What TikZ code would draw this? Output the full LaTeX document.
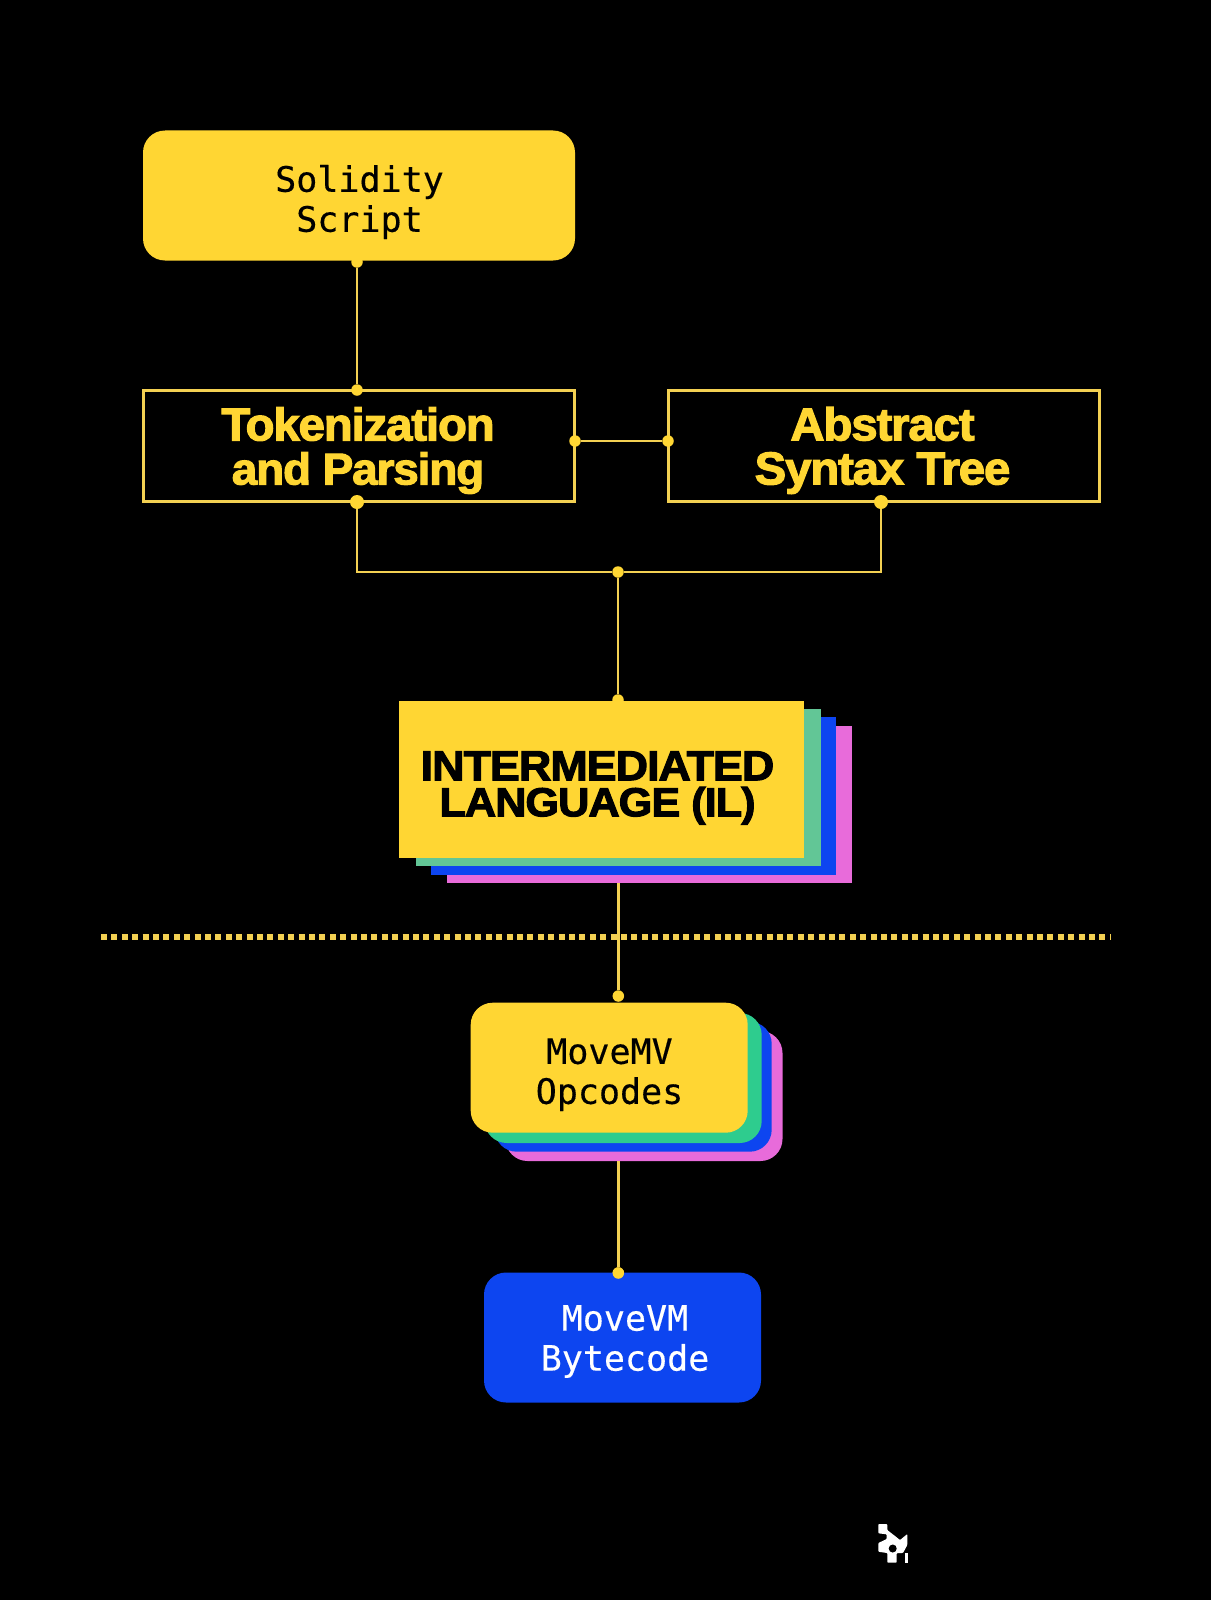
\documentclass[tikz,border=0pt]{standalone}
\usepackage{fontspec}
\setmainfont{Liberation Sans}
\newfontfamily\monofont[FakeBold=0.35]{DejaVu Sans Mono}
\newfontfamily\heavyfont[LetterSpace=-2.5,FakeBold=2.5,FakeStretch=1.03]{Liberation Sans Bold}
\newfontfamily\ilfont[LetterSpace=-2.5,FakeBold=2.5,FakeStretch=1.07]{Liberation Sans Bold}
\begin{document}
\begin{tikzpicture}[x=1pt,y=-1pt]
    \definecolor{move_bg}{RGB}{0,0,0}
    \definecolor{move_yellow}{RGB}{255,214,51}
    \definecolor{move_line}{RGB}{243,208,82}
    \definecolor{move_greenA}{RGB}{98,198,150}
    \definecolor{move_greenB}{RGB}{46,204,142}
    \definecolor{move_blue}{RGB}{13,69,240}
    \definecolor{move_pink}{RGB}{232,107,218}
    \tikzset{
        solidbox/.style={shape=rectangle,rounded corners=22pt,fill=move_yellow,inner sep=0pt,outer sep=0pt,minimum width=432pt,minimum height=130pt},
        framebox/.style={shape=rectangle,draw=move_line,line width=2.8pt,inner sep=0pt,outer sep=0pt,minimum width=431pt,minimum height=111pt},
        ilcard/.style={shape=rectangle,inner sep=0pt,outer sep=0pt,minimum width=405pt,minimum height=157.5pt},
        mvcard/.style={shape=rectangle,rounded corners=22pt,inner sep=0pt,outer sep=0pt,minimum width=277pt,minimum height=130pt},
        monotext/.style={align=center,inner sep=0pt,font=\monofont\fontsize{35}{40}\selectfont},
        headtext/.style={align=center,inner sep=0pt,text=move_yellow,font=\heavyfont\fontsize{46}{44}\selectfont},
        dotsmall/.style={shape=circle,fill=move_yellow,inner sep=0pt,minimum size=11.5pt},
        dotbig/.style={shape=circle,fill=move_yellow,inner sep=0pt,minimum size=14pt},
        wire/.style={draw=move_line,line width=2.7pt}
    }
    \fill[move_bg] (0,0) rectangle (1211,1600);
    \useasboundingbox (0,0) rectangle (1211,1600);

    % top row
    \node[solidbox] (solidity) at (359,195.5) {};
    \node[monotext] (soliditytext) at (359.5,202) {Solidity\\Script};
    \node[framebox] (tokens) at (359,446) {};
    \node[headtext] (tokenstext) at (358,450.5) {Tokenization\\\fontsize{44.5}{44}\selectfont and Parsing};
    \node[framebox] (ast) at (884,446) {};
    \node[headtext] (asttext) at (882.5,450.5) {Abstract\\Syntax Tree};

    % dots of the upper connectors
    \node[dotsmall] (solidityout) at (357,262) {};
    \node[dotsmall] (tokensin) at (357,390) {};
    \node[dotsmall] (tokensright) at (575,441) {};
    \node[dotsmall] (astleft) at (668,441) {};
    \node[dotbig] (tokensout) at (357,502) {};
    \node[dotbig] (astout) at (881,502) {};
    \node[dotsmall] (merge) at (618,572) {};
    \node[dotsmall] (ilin) at (618,700) {};
    \draw[wire] (solidityout) -- (tokensin);
    \draw[wire] (tokensright) -- (astleft);
    \draw[wire] (tokensout) |- (merge);
    \draw[wire] (astout) |- (merge);
    \draw[wire] (merge) -- (ilin);

    % intermediate language stack
    \node[ilcard,fill=move_pink] (ilpink) at (649.5,804.7) {};
    \node[ilcard,fill=move_blue] (ilblue) at (633.7,796.2) {};
    \node[ilcard,fill=move_greenA] (ilgreen) at (618,787.5) {};
    \node[ilcard,fill=move_yellow] (ilcard) at (601.8,779.5) {};
    \node[text=black,align=center,inner sep=0pt,font=\ilfont\fontsize{42}{36}\selectfont] (iltext) at (597.5,788) {INTERMEDIATED\\\fontsize{40.5}{36}\selectfont LANGUAGE (IL)};

    % dotted divider
    \coordinate (divleft) at (101,936.7);
    \coordinate (divright) at (1111,936.7);
    \draw[move_line,line width=6pt,dash pattern=on 6pt off 4.4pt] (divleft) -- (divright);

    % lower part
    \node[dotsmall] (mvin) at (618.3,996) {};
    \node[dotsmall] (vmin) at (618.3,1273) {};
    \node[mvcard,fill=move_pink] (mvpink) at (644,1096) {};
    \node[mvcard,fill=move_blue] (mvblue) at (633.2,1086.7) {};
    \node[mvcard,fill=move_greenB] (mvgreen) at (623.2,1078) {};
    \node[mvcard,fill=move_yellow] (mvcard) at (609.2,1067.7) {};
    \node[monotext] (mvtext) at (609.5,1074.7) {MoveMV\\Opcodes};
    \draw[wire] (mvin |- ilpink.south) -- (mvin);
    \draw[wire] (vmin |- mvpink.south) -- (vmin);
    \node[mvcard,fill=move_blue] (bytecode) at (622.5,1337.5) {};
    \node[monotext,text=white] (bytecodetext) at (625,1341.5) {MoveVM\\Bytecode};
    \node[dotsmall] at (vmin) {};

    % logo
    \fill[white,rounded corners=0.8pt] (878.3,1524) -- (887.3,1524) -- (887.3,1530) -- (895,1536) -- (900,1540) -- (907.3,1534) -- (907.3,1545) -- (903,1553) -- (896.7,1553) -- (896.7,1562.7) -- (887.3,1562.7) -- (887.3,1553) -- (878.3,1551.7) -- (878.3,1543) -- (886.7,1539) -- (886.7,1534.3) -- (878.3,1533.3) -- cycle;
    \fill[black] (892.7,1548.5) circle (4pt);
    \fill[white] (905,1552.7) rectangle (908.3,1562.7);
\end{tikzpicture}
\end{document}
